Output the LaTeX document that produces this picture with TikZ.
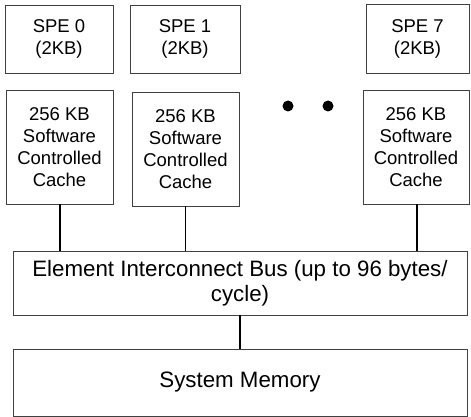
\documentclass[tikz,border=0pt]{standalone}
\usepackage{fontspec}
\setmainfont{Liberation Sans}
\begin{document}
\begin{tikzpicture}[x=1pt,y=-1pt,
  box/.style={draw=black!75, line width=0.9pt, rectangle, inner sep=0pt, align=center,
              font=\fontsize{18.5}{22}\selectfont},
  wide/.style={box, minimum width=454pt, font=\fontsize{22.3}{24.5}\selectfont},
  link/.style={draw=black, line width=1.8pt},
  dot/.style={circle, fill=black, inner sep=0pt, minimum size=11pt}]
\useasboundingbox (0,0) rectangle (471,417);

% SPE local stores
\node[box, minimum width=108pt, minimum height=68pt] (spe0) at (59,39) {SPE 0\\(2KB)};
\node[box, minimum width=110pt, minimum height=68pt] (spe1) at (185,39) {SPE 1\\(2KB)};
\node[box, minimum width=103pt, minimum height=69pt] (spe7) at (417.5,38.5) {SPE 7\\(2KB)};

% software caches
\node[box, minimum width=107pt, minimum height=114pt] (c0) at (59.5,147) {256 KB\\Software\\Controlled\\Cache};
\node[box, minimum width=107pt, minimum height=114pt] (c1) at (185.5,149) {256 KB\\Software\\Controlled\\Cache};
\node[box, minimum width=106pt, minimum height=114pt] (c7) at (416,147) {256 KB\\Software\\Controlled\\Cache};

% ellipsis between the caches
\node[dot] (d1) at (288,106) {};
\node[dot] (d2) at (328,106) {};

% bus and memory
\node[wide, minimum height=64pt] (bus) at (240,283) {Element Interconnect Bus (up to 96 bytes/\\cycle)};
\node[wide, minimum height=67pt] (mem) at (240,382.5) {System Memory};

% connections
\draw[link] ([xshift=0.5pt]c0.south) -- ([xshift=0.5pt]c0.south |- bus.north);
\draw[link] (c1.south) -- (c1.south |- bus.north);
\draw[link] ([xshift=1pt]c7.south) -- ([xshift=1pt]c7.south |- bus.north);
\draw[link] (bus.south) -- (mem.north);
\end{tikzpicture}
\end{document}
